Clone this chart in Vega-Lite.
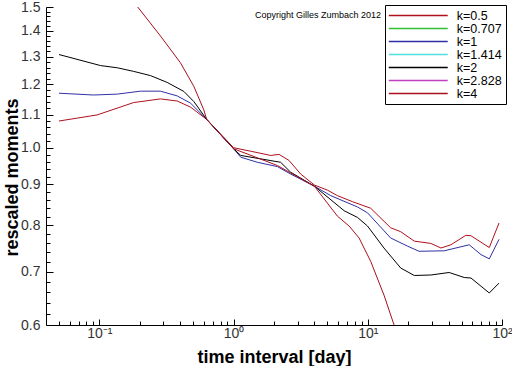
{
  "$schema": "https://vega.github.io/schema/vega-lite/v6.json",
  "width": 456,
  "height": 318,
  "autosize": {"type": "none"},
  "padding": {"left": 46, "top": 7, "right": 10, "bottom": 41},
  "background": "white",
  "config": {
    "view": {"stroke": null},
    "font": "Liberation Sans",
    "axis": {"grid": false, "domainColor": "black", "tickColor": "black", "labelColor": "#333", "titleColor": "black", "labelFont": "Liberation Sans", "titleFont": "Liberation Sans"}
  },
  "datasets": {
    "curves": [
      {"k": "k=0.5", "t": 0.05, "v": 1.080},
      {"k": "k=0.5", "t": 0.096, "v": 1.099},
      {"k": "k=0.5", "t": 0.18, "v": 1.139},
      {"k": "k=0.5", "t": 0.285, "v": 1.151},
      {"k": "k=0.5", "t": 0.38, "v": 1.144},
      {"k": "k=0.5", "t": 0.478, "v": 1.124},
      {"k": "k=0.5", "t": 0.63, "v": 1.085},
      {"k": "k=0.5", "t": 1.0, "v": 1.0},
      {"k": "k=0.5", "t": 1.34, "v": 0.990},
      {"k": "k=0.5", "t": 1.89, "v": 0.978},
      {"k": "k=0.5", "t": 2.18, "v": 0.981},
      {"k": "k=0.5", "t": 2.59, "v": 0.964},
      {"k": "k=0.5", "t": 3.16, "v": 0.927},
      {"k": "k=0.5", "t": 4.0, "v": 0.898},
      {"k": "k=0.5", "t": 5.0, "v": 0.885},
      {"k": "k=0.5", "t": 5.94, "v": 0.871},
      {"k": "k=0.5", "t": 7.69, "v": 0.856},
      {"k": "k=0.5", "t": 10.5, "v": 0.840},
      {"k": "k=0.5", "t": 14.8, "v": 0.794},
      {"k": "k=0.5", "t": 17.6, "v": 0.785},
      {"k": "k=0.5", "t": 22.2, "v": 0.764},
      {"k": "k=0.5", "t": 29.5, "v": 0.759},
      {"k": "k=0.5", "t": 35.1, "v": 0.749},
      {"k": "k=0.5", "t": 41.6, "v": 0.756},
      {"k": "k=0.5", "t": 53.8, "v": 0.777},
      {"k": "k=0.5", "t": 58.7, "v": 0.776},
      {"k": "k=0.5", "t": 80.4, "v": 0.750},
      {"k": "k=0.5", "t": 95.0, "v": 0.805},
      {"k": "k=1", "t": 0.05, "v": 1.170},
      {"k": "k=1", "t": 0.0906, "v": 1.164},
      {"k": "k=1", "t": 0.136, "v": 1.167},
      {"k": "k=1", "t": 0.202, "v": 1.177},
      {"k": "k=1", "t": 0.285, "v": 1.177},
      {"k": "k=1", "t": 0.38, "v": 1.161},
      {"k": "k=1", "t": 0.478, "v": 1.137},
      {"k": "k=1", "t": 0.63, "v": 1.085},
      {"k": "k=1", "t": 1.0, "v": 0.997},
      {"k": "k=1", "t": 1.13, "v": 0.973},
      {"k": "k=1", "t": 1.5, "v": 0.959},
      {"k": "k=1", "t": 2.12, "v": 0.947},
      {"k": "k=1", "t": 2.66, "v": 0.927},
      {"k": "k=1", "t": 4.0, "v": 0.895},
      {"k": "k=1", "t": 5.3, "v": 0.871},
      {"k": "k=1", "t": 8.38, "v": 0.843},
      {"k": "k=1", "t": 9.95, "v": 0.829},
      {"k": "k=1", "t": 14.8, "v": 0.771},
      {"k": "k=1", "t": 19.8, "v": 0.753},
      {"k": "k=1", "t": 24.1, "v": 0.742},
      {"k": "k=1", "t": 37.1, "v": 0.743},
      {"k": "k=1", "t": 57.0, "v": 0.756},
      {"k": "k=1", "t": 69.7, "v": 0.735},
      {"k": "k=1", "t": 80.4, "v": 0.726},
      {"k": "k=1", "t": 95.0, "v": 0.768},
      {"k": "k=2", "t": 0.05, "v": 1.308},
      {"k": "k=2", "t": 0.102, "v": 1.267},
      {"k": "k=2", "t": 0.136, "v": 1.259},
      {"k": "k=2", "t": 0.18, "v": 1.246},
      {"k": "k=2", "t": 0.24, "v": 1.231},
      {"k": "k=2", "t": 0.32, "v": 1.207},
      {"k": "k=2", "t": 0.426, "v": 1.176},
      {"k": "k=2", "t": 0.506, "v": 1.142},
      {"k": "k=2", "t": 0.63, "v": 1.085},
      {"k": "k=2", "t": 1.0, "v": 0.997},
      {"k": "k=2", "t": 1.13, "v": 0.978},
      {"k": "k=2", "t": 2.0, "v": 0.962},
      {"k": "k=2", "t": 2.24, "v": 0.959},
      {"k": "k=2", "t": 2.66, "v": 0.932},
      {"k": "k=2", "t": 4.0, "v": 0.895},
      {"k": "k=2", "t": 6.66, "v": 0.834},
      {"k": "k=2", "t": 8.38, "v": 0.818},
      {"k": "k=2", "t": 9.95, "v": 0.798},
      {"k": "k=2", "t": 13.2, "v": 0.749},
      {"k": "k=2", "t": 17.6, "v": 0.707},
      {"k": "k=2", "t": 22.2, "v": 0.692},
      {"k": "k=2", "t": 29.5, "v": 0.693},
      {"k": "k=2", "t": 40.4, "v": 0.698},
      {"k": "k=2", "t": 52.3, "v": 0.688},
      {"k": "k=2", "t": 58.7, "v": 0.687},
      {"k": "k=2", "t": 80.4, "v": 0.658},
      {"k": "k=2", "t": 95.0, "v": 0.677},
      {"k": "k=4", "t": 0.19, "v": 1.505},
      {"k": "k=4", "t": 0.285, "v": 1.380},
      {"k": "k=4", "t": 0.402, "v": 1.277},
      {"k": "k=4", "t": 0.506, "v": 1.193},
      {"k": "k=4", "t": 0.60, "v": 1.115},
      {"k": "k=4", "t": 0.63, "v": 1.085},
      {"k": "k=4", "t": 1.0, "v": 0.997},
      {"k": "k=4", "t": 2.12, "v": 0.950},
      {"k": "k=4", "t": 4.0, "v": 0.895},
      {"k": "k=4", "t": 5.94, "v": 0.821},
      {"k": "k=4", "t": 7.26, "v": 0.798},
      {"k": "k=4", "t": 8.61, "v": 0.771},
      {"k": "k=4", "t": 10.5, "v": 0.721},
      {"k": "k=4", "t": 13.2, "v": 0.654},
      {"k": "k=4", "t": 15.7, "v": 0.600},
      {"k": "k=4", "t": 17.0, "v": 0.575}
    ],
    "note": [
      {"t": 1.443, "v": 1.466, "label": "Copyright Gilles Zumbach 2012"}
    ]
  },
  "layer": [
    {
      "data": {"name": "curves"},
      "mark": {"type": "line", "strokeWidth": 1, "clip": true},
      "encoding": {
        "x": {
          "field": "t", "type": "quantitative",
          "scale": {"type": "log", "domain": [0.04, 100], "nice": false, "zero": false},
          "axis": {
            "orient": "bottom",
            "values": [0.1, 1, 10, 100],
            "labelExpr": "datum.value == 0.1 ? '10⁻¹' : datum.value == 1 ? '10⁰' : datum.value == 10 ? '10¹' : '10²'",
            "tickSize": -6,
            "labelPadding": 7,
            "labelFontSize": 14,
            "labelFlush": false,
            "labelOverlap": false,
            "title": "time interval [day]",
            "titleFontSize": 18,
            "titleFontWeight": "bold",
            "titleBaseline": "top",
            "titleY": 23
          }
        },
        "y": {
          "field": "v", "type": "quantitative",
          "scale": {"type": "log", "domain": [0.6, 1.5], "nice": false, "zero": false},
          "axis": {
            "orient": "left",
            "values": [0.6, 0.7, 0.8, 0.9, 1.0, 1.1, 1.2, 1.3, 1.4, 1.5],
            "format": ".1f",
            "tickSize": -7,
            "labelPadding": 13,
            "labelFontSize": 14,
            "labelFlush": false,
            "labelOverlap": false,
            "title": "rescaled moments",
            "titleFontSize": 18,
            "titleFontWeight": "bold",
            "titleAngle": 270,
            "titleBaseline": "alphabetic",
            "titleX": -29,
            "titleY": 170
          }
        },
        "color": {
          "field": "k", "type": "nominal",
          "scale": {
            "domain": ["k=0.5", "k=0.707", "k=1", "k=1.414", "k=2", "k=2.828", "k=4"],
            "range": ["#b0101c", "#30c030", "#3030a8", "#50e0e0", "#000000", "#c040c0", "#a8101c"]
          },
          "legend": {
            "orient": "none",
            "legendX": 339,
            "legendY": -2,
            "title": null,
            "strokeColor": "black",
            "fillColor": "white",
            "padding": 4,
            "rowPadding": -1,
            "symbolType": "M-5.13,0H5.13",
            "symbolSize": 132,
            "symbolOffset": 22.75,
            "symbolStrokeWidth": 1.5,
            "labelFontSize": 12.5,
            "labelFont": "Liberation Sans",
            "labelColor": "black",
            "labelOffset": 32
          }
        }
      }
    },
    {
      "data": {"name": "note"},
      "mark": {"type": "text", "align": "left", "baseline": "middle", "fontSize": 9, "font": "Liberation Sans", "color": "black"},
      "encoding": {
        "x": {
          "field": "t", "type": "quantitative",
          "scale": {"type": "log", "domain": [0.04, 100], "nice": false, "zero": false},
          "axis": {
            "orient": "bottom",
            "values": [0.05, 0.06, 0.07, 0.08, 0.09, 0.2, 0.3, 0.4, 0.5, 0.6, 0.7, 0.8, 0.9, 2, 3, 4, 5, 6, 7, 8, 9, 20, 30, 40, 50, 60, 70, 80, 90],
            "tickSize": -4,
            "labels": false,
            "domain": false,
            "title": null
          }
        },
        "y": {
          "field": "v", "type": "quantitative",
          "scale": {"type": "log", "domain": [0.6, 1.5], "nice": false, "zero": false},
          "axis": {
            "orient": "left",
            "values": [0.62, 0.64, 0.66, 0.68, 0.72, 0.74, 0.76, 0.78, 0.82, 0.84, 0.86, 0.88, 0.92, 0.94, 0.96, 0.98, 1.02, 1.04, 1.06, 1.08, 1.12, 1.14, 1.16, 1.18, 1.22, 1.24, 1.26, 1.28, 1.32, 1.34, 1.36, 1.38, 1.42, 1.44, 1.46, 1.48],
            "tickSize": -4,
            "labels": false,
            "domain": false,
            "title": null
          }
        },
        "text": {"field": "label", "type": "nominal"}
      }
    }
  ],
  "resolve": {"axis": {"x": "independent", "y": "independent"}}
}
